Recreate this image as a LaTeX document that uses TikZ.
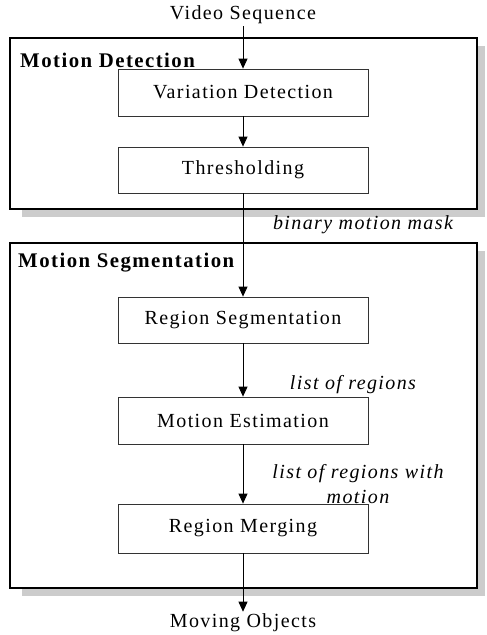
\documentclass[tikz,border=0pt]{standalone}
\usepackage{fontspec}
\setmainfont{Liberation Serif}[LetterSpace=7]
\usetikzlibrary{arrows.meta}

\tikzset{
  txt/.style={inner sep=2pt, font=\fontsize{20}{25}\selectfont},
  stage/.style={txt, draw=black!80, line width=0.8pt, fill=white,
    minimum width=250pt, minimum height=47pt, inner sep=0pt},
  group/.style={draw=black, line width=2.6pt, fill=white},
  shadow/.style={fill=black!20},
  flow/.style={draw=black, line width=0.8pt,
    -{Triangle[width=9pt,length=10pt]}},
  grouptitle/.style={txt, font=\fontsize{20.8}{25}\selectfont\bfseries},
  note/.style={txt, font=\fontsize{20}{25}\selectfont\itshape, align=center}
}

\begin{document}
\begin{tikzpicture}[x=1pt, y=-1pt]
  \useasboundingbox (0,0) rectangle (487,635);
  \fill[white] (0,0) rectangle (487,635);

  % drop shadows of the two groups
  \fill[shadow] (22,46) rectangle (485,217);
  \fill[shadow] (22,251) rectangle (485,596);

  % group frames
  \draw[group] (10,38) rectangle (477,209);
  \draw[group] (10,243) rectangle (477,588);
  \node[grouptitle, anchor=west] (mdlabel) at (18,60) {Motion Detection};
  \node[grouptitle, anchor=west] (mslabel) at (16,263) {Motion Segmentation};

  % processing stages
  \node[txt] (vs) at (243,15) {Video Sequence};
  \node[stage] (vd) at (243,92.5) {Variation Detection};
  \node[stage, minimum height=46pt] (th) at (243,170) {Thresholding};
  \node[stage, minimum height=46pt] (rs) at (243,320) {Region Segmentation};
  \node[stage] (me) at (243,420.5) {Motion Estimation};
  \node[stage, minimum height=49pt] (rm) at (243,528.5) {Region Merging};
  \node[txt] (mo) at (243,623) {Moving Objects};

  % data labels
  \node[note] (bmm) at (363,225) {binary motion mask};
  \node[note] (lor) at (353,385) {list of regions};
  \node[note] (lrm) at (358,484.5) {list of regions with\\motion};

  % connectors
  \draw[flow] (vs.south) -- (vd.north);
  \draw[flow] (vd.south) -- (th.north);
  \draw[flow] (th.south) -- (rs.north);
  \draw[flow] (rs.south) -- (me.north);
  \draw[flow] (me.south) -- (rm.north);
  \draw[flow] (rm.south) -- (mo.north);
\end{tikzpicture}
\end{document}
